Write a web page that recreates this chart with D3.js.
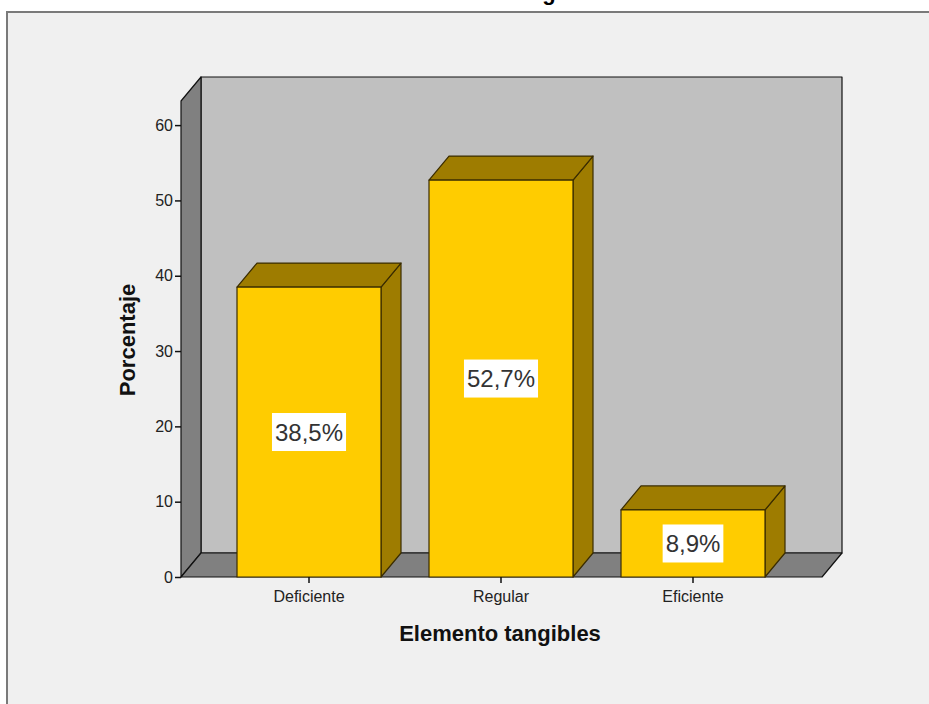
<!DOCTYPE html>
<html>
<head>
<meta charset="utf-8" />
<script src="https://d3js.org/d3.v7.min.js"></script>
<style>
  body { margin: 0px; background-color: white; }
  svg { display: block; }
  text { font-family: "Liberation Sans", Arial, sans-serif; }
</style>
</head>
<body>
<svg id="chart"></svg>
<script>
  // data
  var categories = ["Deficiente", "Regular", "Eficiente"];
  var values = [38.5, 52.7, 8.9];
  var valueLabels = ["38,5%", "52,7%", "8,9%"];
  var yTicks = [0, 10, 20, 30, 40, 50, 60];

  var width = 929, height = 704;
  var depth = {dx: 20, dy: -24};   // 3d offset
  var plot = {left: 181, right: 822, top: 101, bottom: 577};

  var svg = d3.select("#chart").attr("width", width).attr("height", height);

  // frame
  svg.append("rect")
    .attr("x", 7).attr("y", 12)
    .attr("width", width + 10).attr("height", height + 10)
    .attr("fill", "#f0f0f0")
    .attr("stroke", "#7a7a7a")
    .attr("stroke-width", 2);

  // title, mostly cut off at the top (only the descender shows, like the reference)
  svg.append("text")
    .attr("x", 505).attr("y", 0)
    .attr("text-anchor", "middle")
    .attr("font-size", "22px").attr("font-weight", "bold")
    .attr("fill", "#000")
    .text("Elemento tangibles");

  var y = d3.scaleLinear().domain([0, 63.2]).range([plot.bottom, plot.top]);

  var x = d3.scaleBand()
    .domain(categories)
    .range([213, 789])
    .paddingInner(0.25)
    .paddingOuter(0.125);

  function pts(arr) { return arr.map(function(p) { return p.join(","); }).join(" "); }

  var walls = svg.append("g").attr("stroke", "#111").attr("stroke-width", 1.2).attr("stroke-linejoin", "round");

  // back wall
  walls.append("polygon")
    .attr("fill", "#c0c0c0")
    .attr("points", pts([
      [plot.left + depth.dx, plot.top + depth.dy],
      [plot.right + depth.dx, plot.top + depth.dy],
      [plot.right + depth.dx, plot.bottom + depth.dy],
      [plot.left + depth.dx, plot.bottom + depth.dy]
    ]));
  // left wall
  walls.append("polygon")
    .attr("fill", "#808080")
    .attr("points", pts([
      [plot.left, plot.top],
      [plot.left + depth.dx, plot.top + depth.dy],
      [plot.left + depth.dx, plot.bottom + depth.dy],
      [plot.left, plot.bottom]
    ]));
  // floor
  walls.append("polygon")
    .attr("fill", "#808080")
    .attr("points", pts([
      [plot.left, plot.bottom],
      [plot.left + depth.dx, plot.bottom + depth.dy],
      [plot.right + depth.dx, plot.bottom + depth.dy],
      [plot.right, plot.bottom]
    ]));

  // y axis
  var yAxis = d3.axisLeft(y).tickValues(yTicks).tickSize(6).tickSizeOuter(0);
  var gy = svg.append("g")
    .attr("transform", "translate(" + plot.left + ",0)")
    .call(yAxis);
  gy.select(".domain").remove();
  gy.selectAll("line").attr("stroke", "#111").attr("stroke-width", 1.5);
  gy.selectAll("text")
    .attr("font-family", "'Liberation Sans', Arial, sans-serif")
    .attr("font-size", "16px").attr("fill", "#222").attr("x", -8);

  // bars
  var bars = svg.append("g").selectAll("g.bar")
    .data(values)
    .enter().append("g").attr("class", "bar")
    .attr("stroke", "#3a2c00").attr("stroke-width", 1.2).attr("stroke-linejoin", "round");

  bars.append("polygon")   // side
    .attr("fill", "#9e7c00")
    .attr("points", function(d, i) {
      var x1 = x(categories[i]) + x.bandwidth();
      return pts([[x1, y(d)], [x1 + depth.dx, y(d) + depth.dy], [x1 + depth.dx, y(0) + depth.dy], [x1, y(0)]]);
    });
  bars.append("polygon")   // top
    .attr("fill", "#9e7c00")
    .attr("points", function(d, i) {
      var x0 = x(categories[i]), x1 = x0 + x.bandwidth();
      return pts([[x0, y(d)], [x0 + depth.dx, y(d) + depth.dy], [x1 + depth.dx, y(d) + depth.dy], [x1, y(d)]]);
    });
  bars.append("rect")      // front
    .attr("fill", "#ffcc00")
    .attr("x", function(d, i) { return x(categories[i]); })
    .attr("y", function(d) { return y(d); })
    .attr("width", x.bandwidth())
    .attr("height", function(d) { return y(0) - y(d); });

  // value labels in white boxes
  var labels = svg.append("g").selectAll("g.lab")
    .data(values)
    .enter().append("g").attr("class", "lab")
    .attr("transform", function(d, i) {
      return "translate(" + (x(categories[i]) + x.bandwidth() / 2) + "," + ((y(d) + y(0)) / 2) + ")";
    });
  var boxes = labels.append("rect").attr("fill", "white");
  var ltext = labels.append("text")
    .attr("text-anchor", "middle")
    .attr("dy", "0.36em")
    .attr("font-size", "24px")
    .attr("fill", "#333")
    .text(function(d, i) { return valueLabels[i]; });
  ltext.each(function(d, i) {
    var bb = this.getBBox();
    d3.select(boxes.nodes()[i])
      .attr("x", bb.x - 3).attr("width", bb.width + 6)
      .attr("y", -19).attr("height", 38);
  });

  // x axis ticks and labels
  var xAxis = d3.axisBottom(x).tickSize(6).tickSizeOuter(0);
  var gx = svg.append("g")
    .attr("transform", "translate(0," + plot.bottom + ")")
    .call(xAxis);
  gx.select(".domain").remove();
  gx.selectAll("line").attr("stroke", "#111").attr("stroke-width", 1.5);
  gx.selectAll("text")
    .attr("font-family", "'Liberation Sans', Arial, sans-serif")
    .attr("font-size", "16px").attr("fill", "#222").attr("y", 14);

  // axis titles
  svg.append("text")
    .attr("x", 500).attr("y", 641)
    .attr("text-anchor", "middle")
    .attr("font-size", "22px").attr("font-weight", "bold").attr("fill", "#111")
    .text("Elemento tangibles");

  svg.append("text")
    .attr("transform", "translate(135,340) rotate(-90)")
    .attr("text-anchor", "middle")
    .attr("font-size", "22px").attr("font-weight", "bold").attr("fill", "#111")
    .text("Porcentaje");
</script>
</body>
</html>
